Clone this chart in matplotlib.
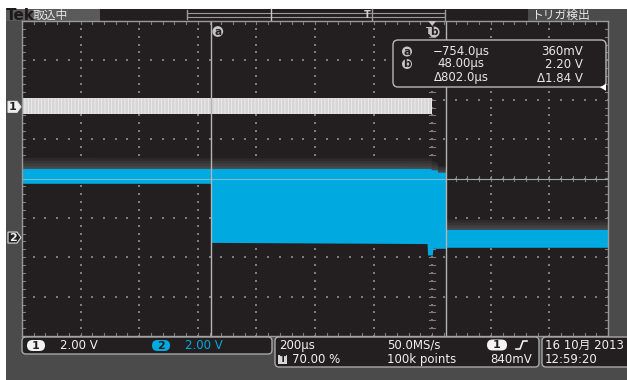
import numpy as np
import matplotlib.pyplot as plt
from matplotlib.patches import Rectangle, FancyBboxPatch, Circle, Polygon

plt.rcParams['font.family'] = ['DejaVu Sans', 'Noto Sans CJK JP']
plt.rcParams['hatch.linewidth'] = 0.6

# horizontal: 200 us/div, trigger at 70 % of the record
t_left, t_right = -1400, 600
volts_per_div = 2.0
ch1_offset = 1.82    # ground marker, divisions above centre
ch2_offset = -1.50

# channel 1 envelope (V)
ch1_t = [-1400, 0]
ch1_hi = [0.44, 0.44]
ch1_lo = [-0.37, -0.37]

# channel 2 envelope (V)
ch2_top_t = [-1400, -2, -2, 20, 20, 48, 48, 600]
ch2_top_v = [3.49, 3.49, 3.42, 3.42, 3.30, 3.30, 0.39, 0.39]
ch2_bot_t = [-1400, -754, -754, -20, -16, -14, 2, 4, 48, 48, 600]
ch2_bot_v = [2.73, 2.73, -0.27, -0.33, -0.33, -0.91, -0.91, -0.57, -0.57, -0.52, -0.52]
# faint persistence above the trace
ch2_halo_t = [-1400, -2, -2, 20, 20, 48, 48, 600]
ch2_halo_v = [4.04, 4.02, 3.90, 3.80, 3.65, 3.60, 0.90, 0.90]

cursor_a, cursor_b = -754.0, 48.0
trig_level = 0.84

readout_a = ['\u2212754.0\u00b5s', '360mV']
readout_b = ['48.00\u00b5s', '2.20 V']
readout_d = ['\u0394802.0\u00b5s', '\u03941.84 V']

BG = '#231f20'
FRAME = '#4b4b4b'
BLUE = '#00a9e0'
GRID = '#7c7c7c'

fig = plt.figure(figsize=(6.27, 3.80), dpi=100)
fig.patch.set_facecolor('white')

# ---- frame (pixel coordinates) ----
bg = fig.add_axes([0, 0, 1, 1])
bg.set_xlim(0, 627)
bg.set_ylim(380, 0)
bg.axis('off')
bg.add_patch(Rectangle((6, 9), 621, 371, fc=FRAME, ec='none'))
bg.add_patch(Rectangle((6, 9), 94, 12, fc='#5a5a5a', ec='none'))
bg.add_patch(Rectangle((100, 9), 428, 12, fc=BG, ec='none'))
bg.text(6, 15.5, 'Tek', fontsize=11, fontweight='bold', color='#1c191a', va='center', zorder=5)
bg.text(33, 15, '取込中', fontsize=8.5, color='#e8e8e8', va='center')
bg.text(531, 15, 'トリガ検出', fontsize=8.5, color='#e8e8e8', va='center')
# record view
bg.add_patch(Rectangle((187, 12.5), 258, 4, fc='none', ec='#9a9a9a', lw=0.8))
bg.plot([187, 187], [10, 19], color='#9a9a9a', lw=1)
bg.plot([271, 271], [9, 21], color='#c8c8c8', lw=1)
bg.plot([372, 372], [9, 21], color='#9a9a9a', lw=1)
bg.plot([445, 445], [10, 20], color='#9a9a9a', lw=1)
bg.text(367, 15, 'T', fontsize=7, color='#d0d0d0', ha='center', va='center', fontweight='bold')

# ---- graticule / traces ----
ax = fig.add_axes([22 / 627, 44 / 380, 586 / 627, 315 / 380])
ax.set_facecolor(BG)
ax.set_xlim(t_left, t_right)
ax.set_ylim(-4, 4)
ax.set_xticks([])
ax.set_yticks([])
for s in ax.spines.values():
    s.set_color('#9a9a9a')
    s.set_linewidth(1)
    s.set_zorder(6)

maj_t = np.arange(t_left, t_right + 1, 200)
min_t = np.arange(t_left, t_right + 1, 40)
maj_y = np.arange(-4, 5, 1)
min_y = np.arange(-4, 4.01, 0.2)
dx, dy = [], []
for y in maj_y[1:-1]:
    dx += list(min_t)
    dy += [y] * len(min_t)
for t in maj_t[1:-1]:
    dx += [t] * len(min_y)
    dy += list(min_y)
ax.scatter(dx, dy, s=0.6, c=GRID, marker='s', linewidths=0, zorder=1)
# centre lines with minor ticks, edge ticks
ax.axhline(0, color='#6a6a6a', lw=0.8, zorder=1)
for t in min_t:
    ax.plot([t, t], [-0.07, 0.07], color=GRID, lw=0.8, zorder=1)
    ax.plot([t, t], [4, 3.93], color=GRID, lw=0.8, zorder=1)
    ax.plot([t, t], [-4, -3.93], color=GRID, lw=0.8, zorder=1)
for y in min_y:
    ax.plot([-10, 10], [y, y], color=GRID, lw=0.8, zorder=1)
    ax.plot([t_left, t_left + 10], [y, y], color=GRID, lw=0.8, zorder=1)
    ax.plot([t_right, t_right - 10], [y, y], color=GRID, lw=0.8, zorder=1)


def to_div(v, off):
    return np.asarray(v, dtype=float) / volts_per_div + off


# channel 2: persistence halo as a few graded layers, then the trace
top = np.array(ch2_top_v)
halo = np.array(ch2_halo_v)
for frac, col in [(1.0, '#2d2a2b'), (0.75, '#363334'), (0.5, '#403d3e'), (0.25, '#4a4748')]:
    upper = top + (halo - top) * frac
    ax.fill(ch2_top_t + ch2_top_t[::-1],
            list(to_div(upper, ch2_offset)) + list(to_div(top, ch2_offset))[::-1],
            color=col, lw=0, zorder=2)
px = ch2_top_t + ch2_bot_t[::-1]
py = list(to_div(ch2_top_v, ch2_offset)) + list(to_div(ch2_bot_v, ch2_offset))[::-1]
ax.fill(px, py, color=BLUE, lw=0, zorder=3)
ax.axhline(0, color='#a8c8d4', lw=0.8, zorder=3.5, alpha=0.7)

# channel 1
ax.fill_between(ch1_t, to_div(ch1_lo, ch1_offset), to_div(ch1_hi, ch1_offset),
                facecolor='#d6d6d6', edgecolor='#ededed', hatch='|||||', lw=0, zorder=3)

# cursors
for c in (cursor_a, cursor_b):
    ax.axvline(c, color='#b4b4b4', lw=1, zorder=4)

# ---- overlays (pixel coordinates) ----
ov = fig.add_axes([0, 0, 1, 1])
ov.set_xlim(0, 627)
ov.set_ylim(380, 0)
ov.axis('off')
ov.patch.set_alpha(0)


def px_of(t):
    return 22 + (t - t_left) / (t_right - t_left) * 586


def py_of(d):
    return 178.5 - d * 315 / 8


def circ_label(x, y, s, r=5.4):
    ov.add_patch(Circle((x, y), r, fc='#c4c4c4', ec='none'))
    ov.text(x, y + 0.3, s, fontsize=7.5, fontweight='bold', color=BG, ha='center', va='center')


circ_label(px_of(cursor_a) + 6.5, 31.5, 'a')
trig_x = px_of(0)
ov.add_patch(Polygon([[trig_x - 4, 21], [trig_x + 4, 21], [trig_x, 26]], fc='#c4c4c4', ec='none'))
circ_label(trig_x + 2, 32, 'b')
ov.text(trig_x - 3.5, 32, 'T', fontsize=6, color='#c4c4c4', ha='center', va='center', fontweight='bold')

# readout box
ov.add_patch(FancyBboxPatch((393, 40), 213, 47, boxstyle='round,pad=0,rounding_size=5',
                            fc=BG, ec='#b8b8b8', lw=1))
rows = [(51.5, 'a', readout_a), (64, 'b', readout_b), (78, None, readout_d)]
for y, lab, vals in rows:
    if lab:
        circ_label(407, y, lab, r=5)
    ov.text(461, y, vals[0], fontsize=8.5, color='#e8e8e8', ha='center', va='center')
    ov.text(583, y, vals[1], fontsize=8.5, color='#e8e8e8', ha='right', va='center')

# trigger level marker (ch1)
ty = py_of(ch1_offset + trig_level / volts_per_div) - 3
ov.add_patch(Polygon([[600, ty], [606, ty - 3.5], [606, ty + 3.5]], fc='white', ec='none'))


# channel ground markers
def ch_marker(y, s, fc, tc):
    ov.add_patch(Polygon([[8, y - 5.5], [17, y - 5.5], [21, y], [17, y + 5.5], [8, y + 5.5]],
                         fc=fc, ec='#e0e0e0', lw=0.8))
    ov.text(12.5, y + 0.3, s, fontsize=8, fontweight='bold', color=tc, ha='center', va='center')


ch_marker(py_of(ch1_offset), '1', '#f0f0f0', BG)
ch_marker(py_of(ch2_offset), '2', BG, '#f0f0f0')


# ---- status boxes ----
def box(x0, y0, w, h):
    ov.add_patch(FancyBboxPatch((x0, y0), w, h, boxstyle='round,pad=0,rounding_size=4',
                                fc=BG, ec='#a8a8a8', lw=1))


def oval(x0, x1, y, fc, s, tc):
    ov.add_patch(FancyBboxPatch((x0, y - 5.5), x1 - x0, 11, boxstyle='round,pad=0,rounding_size=5.5',
                                fc=fc, ec='none'))
    ov.text((x0 + x1) / 2, y + 0.3, s, fontsize=8, fontweight='bold', color=tc, ha='center', va='center')


box(22, 337, 250, 17)
oval(27, 45, 345.5, '#f2f2f2', '1', BG)
ov.text(60, 345.5, '2.00 V', fontsize=8.5, color='#f0f0f0', va='center')
oval(152, 170, 345.5, BLUE, '2', BG)
ov.text(185, 345.5, '2.00 V', fontsize=8.5, color=BLUE, va='center')

box(275, 337, 264, 30)
ov.text(279, 345, '200\u00b5s', fontsize=8.5, color='#f0f0f0', va='center')
ov.add_patch(Rectangle((278, 355), 9, 9, fc='#d8d8d8', ec='none'))
ov.text(282.5, 359.7, 'T', fontsize=6.5, fontweight='bold', color=BG, ha='center', va='center')
ov.text(292, 359.5, '70.00 %', fontsize=8.5, color='#f0f0f0', va='center')
ov.text(387, 345, '50.0MS/s', fontsize=8.5, color='#f0f0f0', va='center')
ov.text(387, 359.5, '100k points', fontsize=8.5, color='#f0f0f0', va='center')
oval(487, 507, 345, '#f2f2f2', '1', BG)
ov.plot([516, 520, 523, 527], [349, 349, 341, 341], color='#f0f0f0', lw=1.2)
ov.text(490, 359.5, '840mV', fontsize=8.5, color='#f0f0f0', va='center')

box(542, 337, 90, 30)
ov.text(545, 345, '16 10月 2013', fontsize=8.5, color='#f0f0f0', va='center')
ov.text(545, 359.5, '12:59:20', fontsize=8.5, color='#f0f0f0', va='center')

fig.savefig('out.png', dpi=100)
